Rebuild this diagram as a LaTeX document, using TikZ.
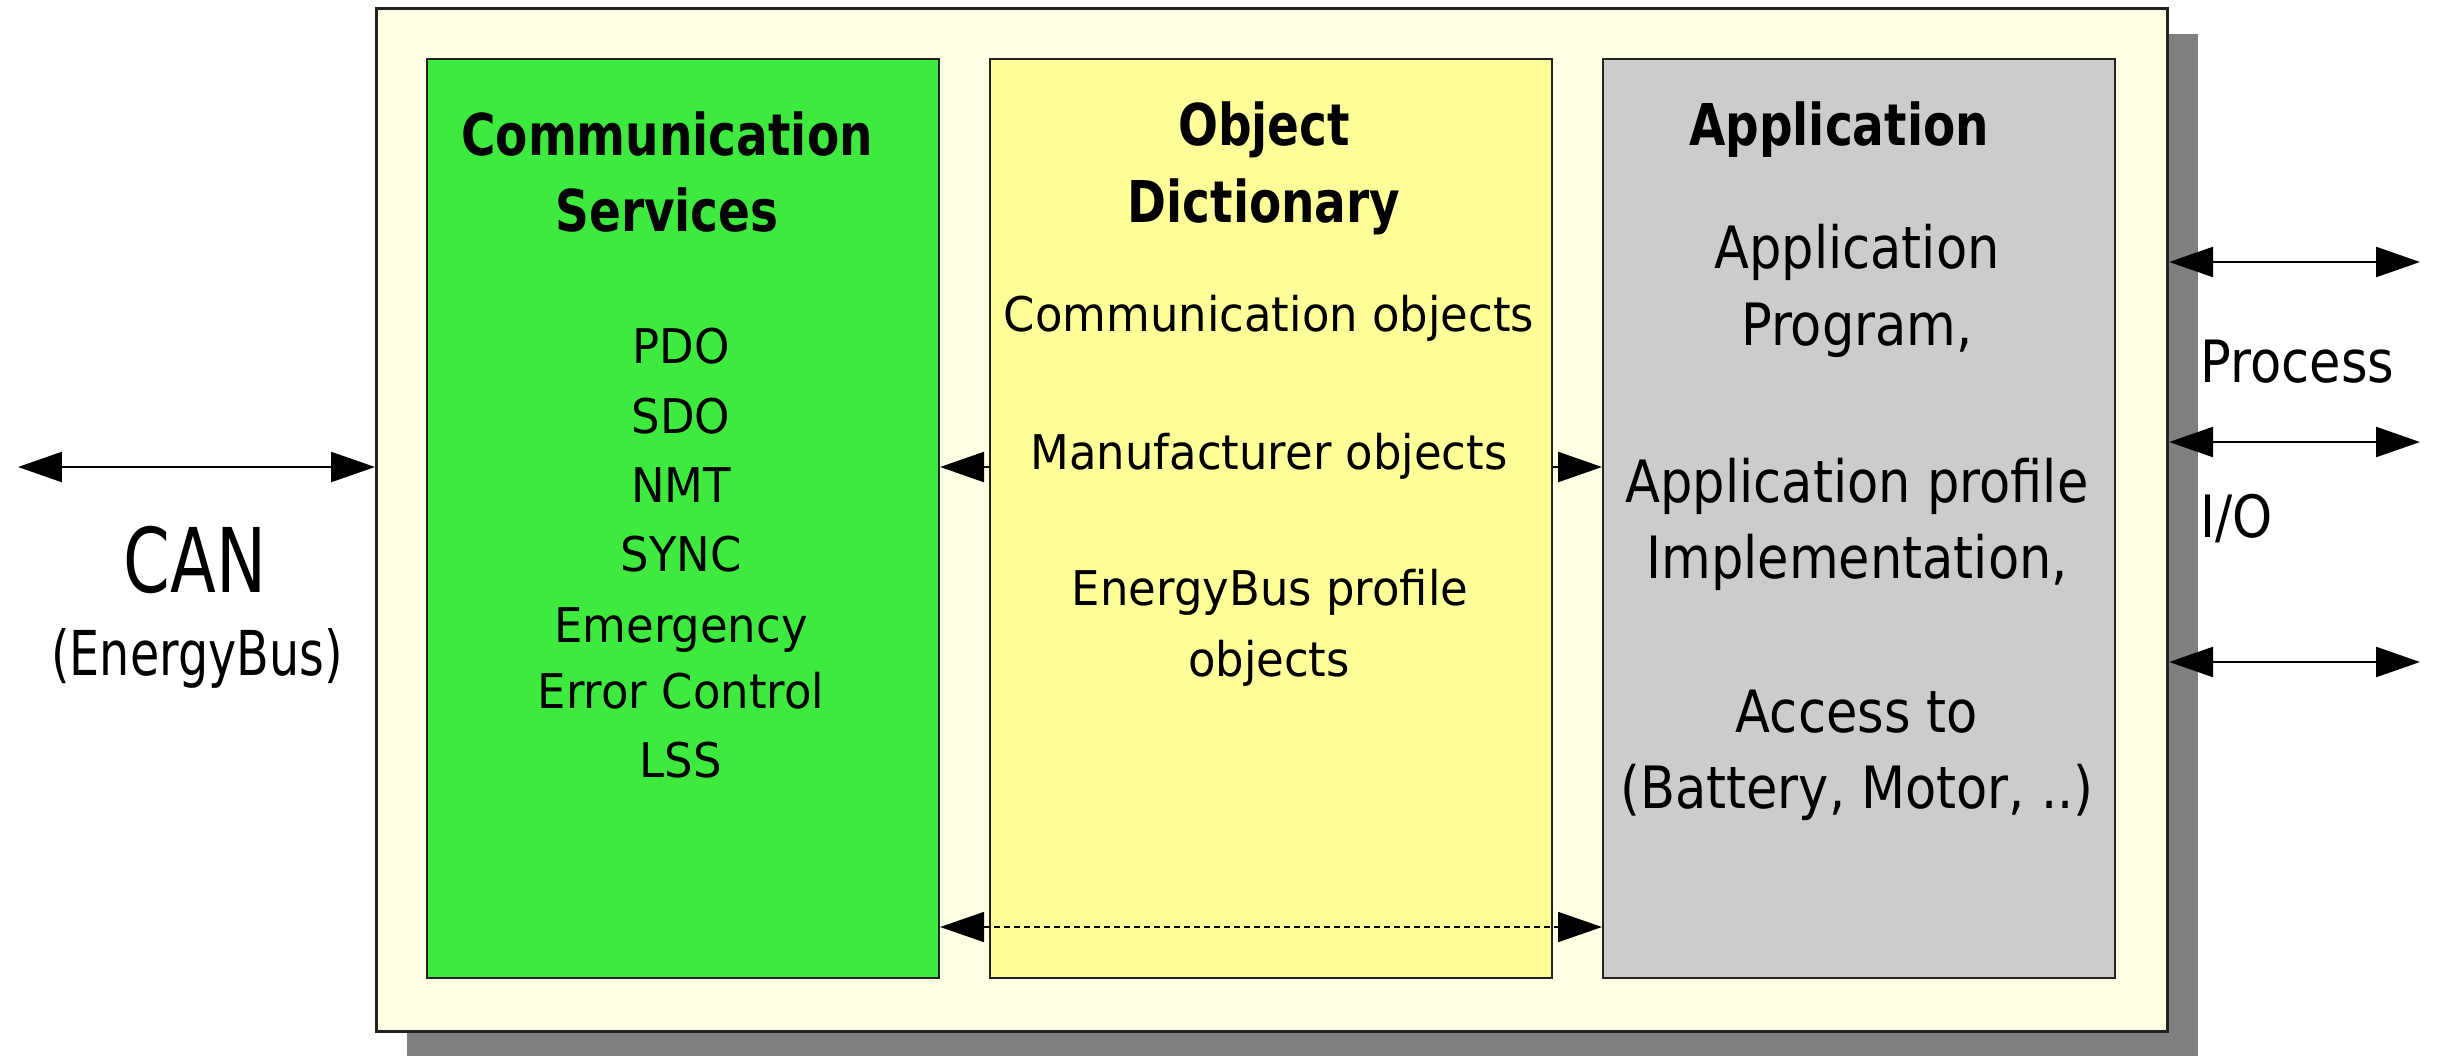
\documentclass[tikz,border=0pt]{standalone}
\usepackage{fontspec}
\setmainfont{DejaVu Sans}
\newfontfamily\titlefont{DejaVu Sans}[FakeStretch=0.815]
\newfontfamily\bodyfont{DejaVu Sans}[FakeStretch=0.94]
\newfontfamily\appfont{DejaVu Sans}[FakeStretch=0.875]
\newfontfamily\canfont{DejaVu Sans}[FakeStretch=0.75]
\newfontfamily\ebfont{DejaVu Sans}[FakeStretch=0.77]
\usetikzlibrary{arrows.meta}
\definecolor{outerfill}{HTML}{FFFFE4}
\definecolor{shadowgray}{HTML}{808080}
\definecolor{commgreen}{HTML}{3FEA3F}
\definecolor{dictyellow}{HTML}{FFFF99}
\definecolor{appgray}{HTML}{CCCCCC}
\definecolor{edge}{HTML}{222222}
\tikzset{
  panel/.style={draw=edge, line width=0.6pt, anchor=north west, inner sep=0pt},
  lbl/.style={anchor=base, inner sep=0pt, text=black},
  lblw/.style={anchor=base west, inner sep=0pt, text=black},
  ttl/.style={lbl, font=\titlefont\bfseries\fontsize{16.4}{18}\selectfont},
  body/.style={lbl, font=\bodyfont\fontsize{13.6}{16}\selectfont},
  appbody/.style={lbl, font=\appfont\fontsize{16.6}{19}\selectfont},
  io/.style={lblw, font=\appfont\fontsize{16.6}{19}\selectfont},
  biarrow/.style={{Triangle[length=4.4mm,width=3.0mm]}-{Triangle[length=4.4mm,width=3.0mm]}, line width=0.7pt},
  onearrow/.style={-{Triangle[length=4.4mm,width=3.0mm]}, line width=0.7pt}
}
\begin{document}
\begin{tikzpicture}[x=0.1mm,y=-0.1mm]
\useasboundingbox (0,0) rectangle (2439,1055);
% shadow
\fill[shadowgray] (407,34) rectangle (2198,1060);
% outer frame
\node[panel, fill=outerfill, line width=0.9pt, minimum width=179.1mm, minimum height=102.3mm] (outer) at (375,7) {};
% panels
\node[panel, fill=commgreen, minimum width=51.2mm, minimum height=91.9mm] (comm) at (426,58) {};
\node[panel, fill=dictyellow, minimum width=56.2mm, minimum height=91.9mm] (dict) at (989,58) {};
\node[panel, fill=appgray, minimum width=51.2mm, minimum height=91.9mm] (app) at (1602,58) {};
% green texts
\node[ttl] (ct1) at (667,155) {Communication};
\node[ttl] (ct2) at (667,231) {Services};
\node[body] (c1) at (681,363) {PDO};
\node[body] (c2) at (681,433) {SDO};
\node[body] (c3) at (681,502) {NMT};
\node[body] (c4) at (681,571) {SYNC};
\node[body] (c5) at (681,642) {Emergency};
\node[body] (c6) at (681,708) {Error Control};
\node[body] (c7) at (681,777) {LSS};
% yellow texts
\node[ttl] (dt1) at (1264,145) {Object};
\node[ttl] (dt2) at (1264,222) {Dictionary};
\node[body] (d1) at (1269,331) {Communication objects};
\node[body] (d2) at (1269,469) {Manufacturer objects};
\node[body] (d3) at (1270,605) {EnergyBus profile};
\node[body] (d4) at (1269,676) {objects};
% gray texts
\node[ttl] (at1) at (1839,145) {Application};
\node[appbody] (a1) at (1857,268) {Application};
\node[appbody] (a2) at (1857,345) {Program,};
\node[appbody] (a3) at (1857,502) {Application profile};
\node[appbody] (a4) at (1857,578) {Implementation,};
\node[appbody] (a5) at (1857,732) {Access to};
\node[appbody] (a6) at (1857,808) {(Battery, Motor, ..)};
% left labels
\node[lbl, font=\canfont\fontsize{25.4}{28}\selectfont] (can) at (195,592) {CAN};
\node[lbl, font=\ebfont\fontsize{17.6}{20}\selectfont] (eb) at (197,675) {(EnergyBus)};
% right labels
\node[io] (proc) at (2200,382) {Process};
\node[io] (iol) at (2200,537) {I/O};
% coordinates for connectors
\coordinate (canL) at (18,467);
\coordinate (midY) at (0,467);
\coordinate (dashY) at (0,927);
\coordinate (r1) at (2420,262);
\coordinate (r2) at (2420,442);
\coordinate (r3) at (2420,662);
% connectors
\draw[biarrow] (canL) -- (outer.west |- canL);
\draw[onearrow] (dict.west |- midY) -- (comm.east |- midY);
\draw[onearrow] (dict.east |- midY) -- (app.west |- midY);
\draw[biarrow, line width=0.5pt, dash pattern=on 0.6mm off 0.4mm] (comm.east |- dashY) -- (app.west |- dashY);
\draw[biarrow] (outer.east |- r1) -- (r1);
\draw[biarrow] (outer.east |- r2) -- (r2);
\draw[biarrow] (outer.east |- r3) -- (r3);
\end{tikzpicture}
\end{document}
